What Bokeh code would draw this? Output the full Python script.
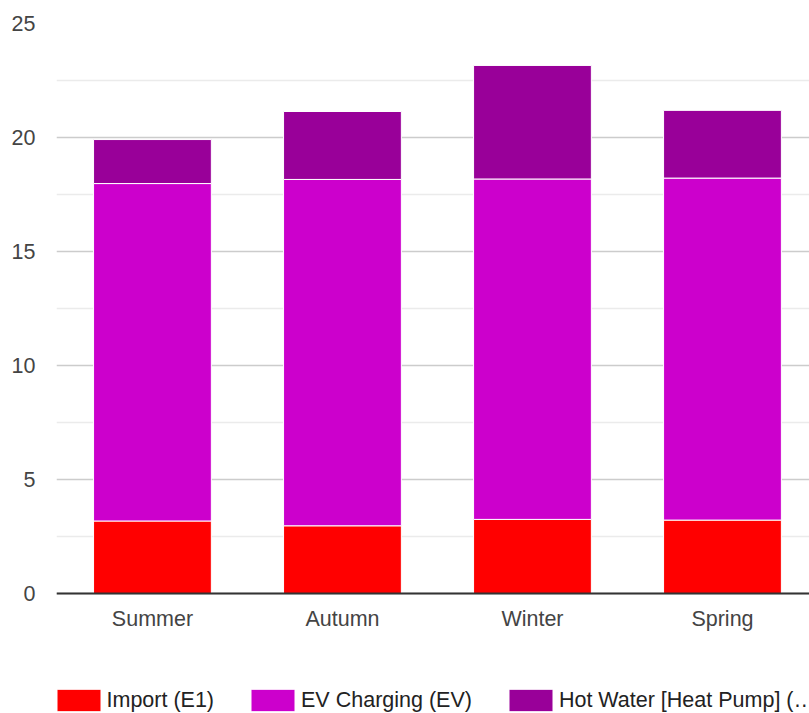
from bokeh.plotting import figure
from bokeh.models import Range1d, FixedTicker, Legend, LegendItem
from bokeh.core.properties import value
from bokeh.embed import file_html
from bokeh.resources import INLINE

# Seasonal energy totals, stacked by source
seasons = ["Summer", "Autumn", "Winter", "Spring"]
import_e1 = [3.18, 2.97, 3.25, 3.22]
ev_charging = [14.80, 15.19, 14.93, 15.00]
hot_water = [1.93, 2.98, 4.98, 2.97]

series_names = ["Import (E1)", "EV Charging (EV)", "Hot Water [Heat Pump] (…"]
series_keys = ["import_e1", "ev_charging", "hot_water"]
series_colors = ["#ff0000", "#cc00cc", "#990099"]
y_ticks = [0, 5, 10, 15, 20, 25]
y_minor = [2.5, 7.5, 12.5, 17.5, 22.5]

FONT = "Liberation Sans"
FONT_SIZE = "21.5px"

x_pos = list(range(len(seasons)))
data = dict(x=x_pos, import_e1=import_e1, ev_charging=ev_charging, hot_water=hot_water)

# The frame reaches the bottom of the canvas so the legend can sit inside it,
# under the season names; the y range runs below zero to leave that room.
p = figure(
    width=809, height=713,
    x_range=Range1d(-0.505, 3.458), y_range=Range1d(-5.263, 25),
    output_backend="svg", toolbar_location=None,
    min_border_left=56, min_border_right=0, min_border_top=23, min_border_bottom=0,
)
p.outline_line_color = None
p.background_fill_color = "white"
p.border_fill_color = "white"

renderers = p.vbar_stack(series_keys, x="x", width=0.62, source=data,
                         color=series_colors, line_color="white", line_width=1)

# Zero baseline
p.hspan(y=[0], line_color="#333333", line_width=2)

# Season names under each bar
p.text(x=x_pos, y=[0] * len(seasons), text=seasons, y_offset=25,
       text_align="center", text_baseline="middle",
       text_font=value(FONT), text_font_size=FONT_SIZE, text_color="#444444")

p.xaxis.visible = False

p.yaxis.ticker = FixedTicker(ticks=y_ticks, minor_ticks=y_minor)
p.yaxis.axis_line_color = None
p.yaxis.major_tick_line_color = None
p.yaxis.minor_tick_line_color = None
p.yaxis.major_label_standoff = 15
p.yaxis.major_label_text_font = FONT
p.yaxis.major_label_text_font_size = FONT_SIZE
p.yaxis.major_label_text_color = "#444444"

# Grid
p.xgrid.grid_line_color = None
p.ygrid.grid_line_color = "#cccccc"
p.ygrid.grid_line_width = 1.3
p.ygrid.minor_grid_line_color = "#ebebeb"
p.ygrid.minor_grid_line_width = 1.3

# Legend along the bottom edge; the bar swatch is drawn inset by a tenth of
# the glyph box on each side, so the box is a little larger than the swatch.
items = [LegendItem(label=n, renderers=[r]) for n, r in zip(series_names, renderers)]
legend = Legend(items=items, orientation="horizontal", location=(-5.5, -1),
                glyph_width=55, glyph_height=28, label_standoff=1, spacing=31,
                padding=0, margin=0, border_line_color=None,
                background_fill_alpha=0,
                label_text_font=FONT, label_text_font_size=FONT_SIZE,
                label_text_color="#222222")
p.add_layout(legend, "center")

open("out.html", "w").write(file_html(p, INLINE))
